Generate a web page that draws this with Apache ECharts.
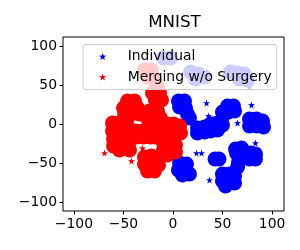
<!DOCTYPE html>
<html>
<head>
<meta charset="utf-8">
<script src="https://cdn.jsdelivr.net/npm/echarts@6/dist/echarts.min.js"></script>
<style>html,body{margin:0;padding:0;background:#fff}#c{width:300px;height:250px}</style>
</head>
<body>
<div id="c"></div>
<script>
// ---- data ----
const titleText = 'MNIST';
const seriesNames = ['Individual', 'Merging w/o Surgery'];
const xTicks = [-100, -50, 0, 50, 100];
const yTicks = [-100, -50, 0, 50, 100];

// Individual (blue) dense cluster points
const blueClusterTop = [[-9.6,84.6],[-2.5,84.6]];
const blueClusterMidTop = [[17.7,66.7],[25.7,64.1],[31.8,60.3],[22.7,57.7]];
const blueClusterRightTop = [[58,66.7],[65.1,65.4],[72.1,64.1],[67.1,57.7],[75.2,56.4]];
const blueCluster1 = [[5.5,29.5],[11.6,29.5],[6.6,21.8],[12.6,20.5],[14.6,12.8],[16.6,7.7]];
const blueCluster2 = [[55,23.1],[61,23.1],[49.9,15.4],[56,15.4],[62.1,16.7],[51,11.5]];
const blueCluster3 = [[77.2,6.4],[84.3,6.4],[90.3,3.8],[77.2,-2.6],[84.3,-2.6],[91.3,-3.8]];
const blueCluster4 = [[24.7,-5.1],[24.7,-11.5],[31.8,-3.8],[31.8,-10.3],[37.8,0],[37.8,-9],[44.9,1.3],[44.9,-7.7],[49.9,-1.3]];
const blueCluster5 = [[63.1,-32.1],[69.1,-30.8],[64.1,-37.2],[71.1,-38.5],[78.2,-37.2],[83.2,-38.5],[77.2,-44.9],[83.2,-44.9]];
const blueCluster6 = [[6.6,-50],[13.6,-51.3],[5.5,-59],[12.6,-59],[16.6,-64.1],[9.6,-65.4]];
const blueCluster7 = [[49.9,-64.1],[57,-64.1],[62.1,-66.7],[49.9,-73.1],[57,-74.4],[62.1,-75.6],[53,-79.5]];
const blueCluster8 = [[42.4,-44.9],[46.4,-44.9]];
const blueCluster9 = [[66.1,-48.7],[65.1,-55.1]];
const blueOutliers = [[33.8,26.9],[79.2,24.4],[35.8,10.3],[39.9,6.4],[65.1,1.3],[83.2,-24.4],[23.7,-37.2],[28.8,-37.2],[36.8,-71.8],[77.2,47.4]];

// Merging w/o Surgery (red) dense cluster points
const redCluster0 = [[-28.8,69.2],[-21.7,69.2],[-25.7,60.3],[-18.7,56.4],[-15.6,48.7],[-20.7,39.7],[-13.6,39.7],[-17.7,30.8],[-11.6,30.8]];
const redClusterA = [[-45.9,29.5],[-38.8,29.5],[-49.9,20.5],[-42.9,20.5],[-35.8,20.5],[-48.9,12.8],[-41.9,12.8],[-33.8,12.8]];
const redClusterB = [[-23.7,16.7],[-15.6,16.7],[-25.7,7.7],[-18.7,7.7],[-12.6,7.7],[-23.7,0],[-15.6,0]];
const redClusterC = [[-61,1.3],[-54,1.3],[-46.9,1.3],[-61,-9],[-54,-9],[-46.9,-9]];
const redClusterD = [[-6.6,0],[0.5,0],[6.6,-2.6],[-7.6,-9],[-0.5,-9],[7.6,-11.5],[-5.5,-15.4],[1.5,-15.4]];
const redClusterE = [[-37.8,-9],[-30.8,-9],[-23.7,-9],[-17.7,-10.3],[-36.8,-16.7],[-29.8,-16.7],[-22.7,-16.7],[-17.7,-16.7]];
const redClusterF = [[-60,-19.2],[-53,-19.2],[-44.9,-19.2],[-60,-28.2],[-53,-28.2],[-44.9,-28.2],[-54,-33.3],[-43.9,-33.3]];
const redClusterG = [[-9.6,-24.4],[-2.5,-24.4],[2.5,-26.9],[-9.6,-33.3],[-2.5,-33.3],[2.5,-35.9],[-5.5,-39.7]];
const redClusterH = [[-28.8,-42.3],[-21.7,-41],[-14.6,-43.6],[-28.8,-51.3],[-21.7,-51.3],[-14.6,-52.6],[-25.7,-60.3],[-18.7,-60.3]];
const redOutliers = [[-69.1,-37.2],[-41.9,-47.4],[-30.8,-30.8],[-6.6,7.7]];

const blueClusters = [].concat(blueClusterTop, blueClusterMidTop, blueClusterRightTop, blueCluster1, blueCluster2,
  blueCluster3, blueCluster4, blueCluster5, blueCluster6, blueCluster7, blueCluster8, blueCluster9);
const redClusters = [].concat(redCluster0, redClusterA, redClusterB, redClusterC, redClusterD, redClusterE,
  redClusterF, redClusterG, redClusterH);

// ---- chart ----
const star = 'path://M0,-10L2.35,-3.24L9.51,-3.09L3.8,1.24L5.88,8.09L0,4.2L-5.88,8.09L-3.8,1.24L-9.51,-3.09L-2.35,-3.24Z';
const FONT = 'DejaVu Sans';
const fmt = v => String(v).replace('-', '\u2212');
const chart = echarts.init(document.getElementById('c'), null, {renderer: 'canvas'});
chart.setOption({
  animation: false,
  backgroundColor: '#fff',
  title: {
    text: titleText, left: 174.5, top: 14, padding: 0, textAlign: 'center',
    textStyle: {fontFamily: FONT, fontSize: 16.7, fontWeight: 'normal', color: '#000'}
  },
  legend: {
    orient: 'vertical', left: 83, top: 44.5,
    padding: [4, 5, 4.5, 16],
    itemWidth: 34, itemHeight: 7, itemGap: 4.5,
    backgroundColor: 'rgba(255,255,255,0.8)', borderColor: '#cccccc', borderWidth: 1, borderRadius: 3,
    data: [{name: seriesNames[0], icon: star}, {name: seriesNames[1], icon: star}],
    textStyle: {fontFamily: FONT, fontSize: 13.9, color: '#000', lineHeight: 16, padding: [0, 0, 0, 3]}
  },
  grid: {left: 63, right: 16, top: 37, bottom: 39, show: true, borderColor: '#000', borderWidth: 1, backgroundColor: 'transparent'},
  xAxis: {
    type: 'value', min: -111, max: 112,
    splitLine: {show: false},
    axisLine: {show: false, onZero: false},
    axisTick: {show: true, inside: false, length: 3.5, customValues: xTicks, lineStyle: {color: '#000', width: 1}},
    axisLabel: {customValues: xTicks, formatter: fmt, margin: 6, fontFamily: FONT, fontSize: 13.9, color: '#000'}
  },
  yAxis: {
    type: 'value', min: -111.5, max: 111.5,
    splitLine: {show: false},
    axisLine: {show: false, onZero: false},
    axisTick: {show: true, inside: false, length: 3.5, customValues: yTicks, lineStyle: {color: '#000', width: 1}},
    axisLabel: {customValues: yTicks, formatter: fmt, margin: 6, fontFamily: FONT, fontSize: 13.9, color: '#000'}
  },
  series: [
    {name: seriesNames[0], type: 'scatter', symbol: star, symbolSize: 7, data: blueOutliers, itemStyle: {color: '#0000ff', opacity: 1}, z: 2},
    {name: seriesNames[0], type: 'scatter', symbol: 'circle', symbolSize: 15, data: blueClusters, itemStyle: {color: '#0000ff', opacity: 1}, z: 2},
    {name: seriesNames[1], type: 'scatter', symbol: star, symbolSize: 7, data: redOutliers, itemStyle: {color: '#ff0000', opacity: 1}, z: 2},
    {name: seriesNames[1], type: 'scatter', symbol: 'circle', symbolSize: 15, data: redClusters, itemStyle: {color: '#ff0000', opacity: 1}, z: 2}
  ]
});
</script>
</body>
</html>
